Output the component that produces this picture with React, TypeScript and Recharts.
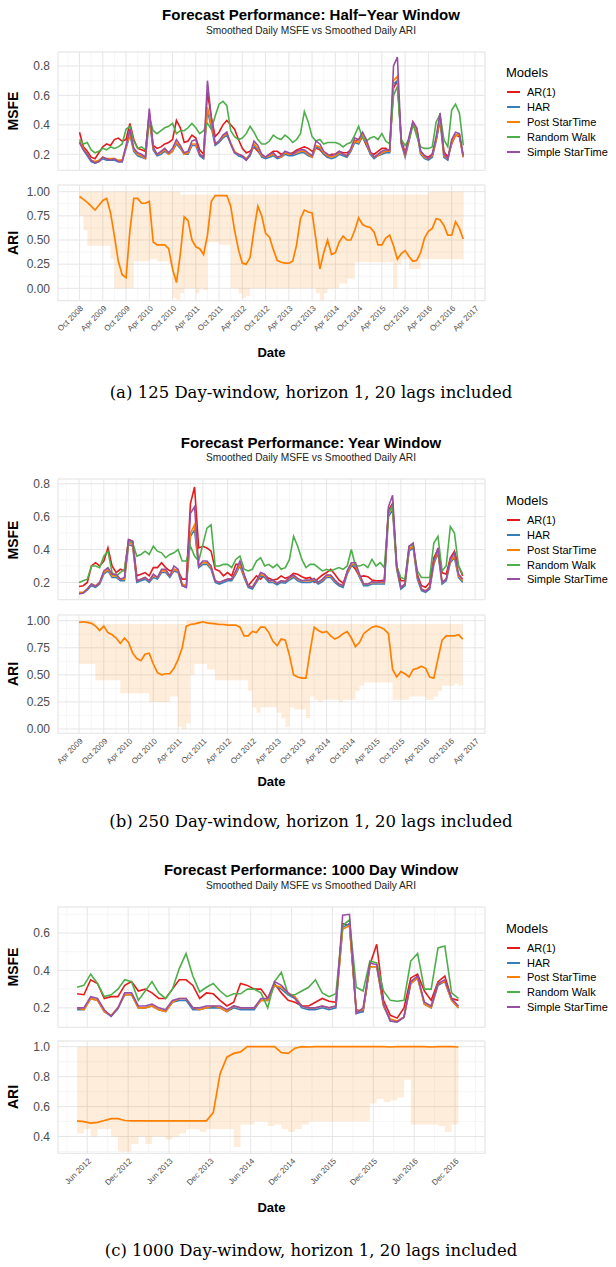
import React from "react";
import { LineChart, ComposedChart, Line, Area, XAxis, YAxis, CartesianGrid } from "recharts";

const FONT = "'Liberation Sans', Arial, Helvetica, sans-serif";
const MONTHS = ["Jan", "Feb", "Mar", "Apr", "May", "Jun", "Jul", "Aug", "Sep", "Oct", "Nov", "Dec"];

const MODELS = [
  { key: "ar", name: "AR(1)", color: "#E41A1C" },
  { key: "har", name: "HAR", color: "#377EB8" },
  { key: "post", name: "Post StarTime", color: "#FF7F00" },
  { key: "rw", name: "Random Walk", color: "#4DAF4A" },
  { key: "simple", name: "Simple StarTime", color: "#984EA3" },
];

// x values are months since Jan 2008 (9 = Oct 2008)

// ---- (a) 125 day window, first month Oct 2008 ----
const halfStart = 9;
const halfAR = [
  0.35, 0.25, 0.22, 0.18, 0.17, 0.21, 0.25, 0.27, 0.26, 0.30,
  0.31, 0.29, 0.30, 0.41, 0.30, 0.24, 0.23, 0.22, 0.48, 0.26,
  0.24, 0.25, 0.27, 0.28, 0.30, 0.43, 0.38, 0.28, 0.29, 0.33,
  0.31, 0.23, 0.20, 0.62, 0.45, 0.32, 0.35, 0.40, 0.43, 0.40,
  0.37, 0.30, 0.24, 0.21, 0.22, 0.25, 0.22, 0.19, 0.18, 0.20,
  0.22, 0.22, 0.20, 0.21, 0.20, 0.21, 0.23, 0.24, 0.25, 0.24,
  0.22, 0.24, 0.23, 0.20, 0.18, 0.20, 0.20, 0.22, 0.21, 0.21,
  0.23, 0.29, 0.30, 0.32, 0.26, 0.21, 0.20, 0.22, 0.24, 0.24,
  0.22, 0.65, 0.70, 0.30, 0.21, 0.30, 0.42, 0.37, 0.22, 0.19,
  0.18, 0.20, 0.30, 0.44, 0.22, 0.18, 0.27, 0.33, 0.32, 0.18,
];
const halfHAR = [
  0.28, 0.23, 0.19, 0.15, 0.14, 0.15, 0.17, 0.16, 0.16, 0.16,
  0.15, 0.15, 0.24, 0.33, 0.22, 0.19, 0.18, 0.17, 0.44, 0.23,
  0.19, 0.20, 0.22, 0.20, 0.22, 0.27, 0.24, 0.20, 0.20, 0.26,
  0.26, 0.19, 0.17, 0.50, 0.38, 0.26, 0.28, 0.31, 0.33, 0.27,
  0.21, 0.19, 0.18, 0.16, 0.19, 0.26, 0.23, 0.18, 0.17, 0.18,
  0.19, 0.17, 0.18, 0.20, 0.19, 0.19, 0.20, 0.21, 0.21, 0.19,
  0.18, 0.25, 0.24, 0.20, 0.18, 0.17, 0.18, 0.20, 0.19, 0.18,
  0.22, 0.28, 0.27, 0.32, 0.27, 0.20, 0.17, 0.19, 0.20, 0.21,
  0.21, 0.68, 0.70, 0.27, 0.18, 0.29, 0.40, 0.35, 0.20, 0.17,
  0.16, 0.18, 0.29, 0.43, 0.18, 0.16, 0.28, 0.33, 0.33, 0.18,
];
const halfPost = [
  0.29, 0.24, 0.20, 0.16, 0.15, 0.16, 0.18, 0.17, 0.17, 0.17,
  0.16, 0.16, 0.25, 0.34, 0.23, 0.20, 0.19, 0.17, 0.46, 0.24,
  0.20, 0.21, 0.23, 0.20, 0.22, 0.28, 0.25, 0.20, 0.21, 0.27,
  0.27, 0.20, 0.18, 0.52, 0.40, 0.27, 0.29, 0.32, 0.34, 0.28,
  0.22, 0.20, 0.19, 0.17, 0.20, 0.27, 0.24, 0.19, 0.18, 0.19,
  0.20, 0.18, 0.18, 0.21, 0.20, 0.20, 0.21, 0.22, 0.22, 0.20,
  0.18, 0.26, 0.25, 0.21, 0.19, 0.18, 0.19, 0.21, 0.20, 0.19,
  0.23, 0.29, 0.28, 0.33, 0.28, 0.21, 0.18, 0.19, 0.21, 0.22,
  0.22, 0.70, 0.73, 0.28, 0.19, 0.30, 0.41, 0.36, 0.21, 0.18,
  0.17, 0.19, 0.30, 0.45, 0.19, 0.17, 0.28, 0.33, 0.33, 0.18,
];
const halfRW = [
  0.30, 0.27, 0.28, 0.23, 0.21, 0.22, 0.24, 0.23, 0.25, 0.24,
  0.25, 0.27, 0.37, 0.39, 0.29, 0.24, 0.25, 0.23, 0.45, 0.36,
  0.34, 0.36, 0.38, 0.39, 0.41, 0.34, 0.36, 0.36, 0.38, 0.41,
  0.38, 0.34, 0.36, 0.41, 0.37, 0.46, 0.54, 0.56, 0.53, 0.36,
  0.32, 0.30, 0.31, 0.34, 0.39, 0.35, 0.30, 0.27, 0.27, 0.29,
  0.33, 0.31, 0.30, 0.33, 0.31, 0.28, 0.30, 0.34, 0.49, 0.42,
  0.32, 0.29, 0.30, 0.27, 0.28, 0.28, 0.28, 0.27, 0.25, 0.27,
  0.28, 0.33, 0.39, 0.31, 0.29, 0.31, 0.32, 0.30, 0.34, 0.29,
  0.27, 0.60, 0.66, 0.30, 0.26, 0.30, 0.41, 0.32, 0.25, 0.24,
  0.24, 0.25, 0.42, 0.47, 0.30, 0.25, 0.50, 0.54, 0.48, 0.26,
];
const halfSimple = [
  0.28, 0.23, 0.20, 0.16, 0.14, 0.15, 0.18, 0.17, 0.16, 0.17,
  0.15, 0.15, 0.26, 0.37, 0.24, 0.21, 0.20, 0.18, 0.51, 0.25,
  0.20, 0.22, 0.24, 0.21, 0.24, 0.30, 0.26, 0.21, 0.22, 0.29,
  0.30, 0.20, 0.18, 0.70, 0.45, 0.27, 0.29, 0.33, 0.35, 0.27,
  0.21, 0.20, 0.19, 0.16, 0.20, 0.29, 0.26, 0.20, 0.18, 0.20,
  0.21, 0.18, 0.19, 0.22, 0.21, 0.20, 0.22, 0.23, 0.23, 0.21,
  0.19, 0.29, 0.27, 0.22, 0.20, 0.19, 0.20, 0.22, 0.20, 0.19,
  0.24, 0.31, 0.30, 0.35, 0.30, 0.22, 0.18, 0.20, 0.22, 0.23,
  0.23, 0.80, 0.86, 0.28, 0.20, 0.32, 0.42, 0.38, 0.22, 0.19,
  0.17, 0.20, 0.32, 0.48, 0.20, 0.17, 0.30, 0.35, 0.34, 0.19,
];
const halfARI = [
  0.95, 0.92, 0.89, 0.85, 0.81, 0.86, 0.91, 0.93, 0.78, 0.54,
  0.28, 0.14, 0.11, 0.60, 0.93, 0.93, 0.88, 0.88, 0.90, 0.48,
  0.45, 0.45, 0.45, 0.41, 0.20, 0.06, 0.35, 0.74, 0.70, 0.50,
  0.43, 0.41, 0.35, 0.55, 0.90, 0.96, 0.96, 0.96, 0.96, 0.85,
  0.60, 0.40, 0.26, 0.25, 0.32, 0.60, 0.85, 0.75, 0.57, 0.53,
  0.40, 0.29, 0.27, 0.26, 0.26, 0.28, 0.45, 0.72, 0.81, 0.79,
  0.78, 0.50, 0.20, 0.37, 0.50, 0.35, 0.37, 0.48, 0.54, 0.50,
  0.50, 0.60, 0.73, 0.66, 0.64, 0.63, 0.58, 0.45, 0.45, 0.52,
  0.55, 0.44, 0.30, 0.36, 0.39, 0.33, 0.28, 0.29, 0.37, 0.52,
  0.59, 0.62, 0.72, 0.71, 0.65, 0.55, 0.55, 0.69, 0.62, 0.51,
];
const halfLow = [
  0.75, 0.60, 0.44, 0.44, 0.44, 0.44, 0.44, 0.44, 0.30, 0.00,
  0.00, 0.00, 0.00, 0.00, 0.28, 0.28, 0.28, 0.28, 0.30, 0.30,
  0.28, 0.28, 0.28, 0.25, -0.10, -0.12, -0.05, 0.00, 0.00, 0.00,
  -0.05, 0.00, -0.02, 0.48, 0.48, 0.48, 0.45, 0.45, 0.45, 0.00,
  0.00, -0.05, -0.10, -0.08, 0.00, 0.00, 0.00, 0.00, 0.00, 0.00,
  0.00, 0.00, 0.00, 0.00, 0.00, 0.00, 0.00, 0.00, 0.00, 0.00,
  0.00, -0.05, -0.12, -0.05, 0.00, 0.00, 0.00, 0.05, 0.05, 0.10,
  0.10, 0.27, 0.27, 0.27, 0.27, 0.27, 0.27, 0.27, 0.27, 0.27,
  0.27, 0.00, 0.25, 0.30, 0.30, 0.20, 0.20, 0.20, 0.30, 0.30,
  0.30, 0.30, 0.30, 0.30, 0.30, 0.30, 0.30, 0.30, 0.30, 0.00,
];
const halfHigh = [
  1.00, 1.00, 1.00, 1.00, 1.00, 1.00, 1.00, 1.00, 1.00, 1.00,
  1.00, 1.00, 1.00, 1.00, 1.00, 1.00, 1.00, 1.00, 1.00, 1.00,
  1.00, 1.00, 1.00, 1.00, 1.00, 1.00, 0.97, 0.97, 0.97, 0.97,
  0.97, 0.97, 0.97, 0.97, 0.97, 0.97, 0.97, 0.97, 0.97, 0.97,
  0.97, 0.97, 0.97, 0.97, 0.97, 0.97, 0.97, 0.97, 0.97, 0.97,
  0.97, 0.97, 0.97, 0.97, 0.97, 0.97, 0.97, 0.97, 0.97, 0.97,
  0.97, 0.97, 0.97, 0.97, 0.97, 0.97, 0.97, 0.97, 0.97, 0.97,
  0.97, 0.97, 0.97, 0.97, 0.97, 0.97, 0.97, 0.97, 0.97, 0.97,
  0.97, 0.97, 0.97, 0.97, 0.97, 0.97, 0.97, 0.97, 0.97, 0.97,
  1.00, 1.00, 1.00, 1.00, 1.00, 1.00, 1.00, 1.00, 1.00, 1.00,
];
const halfTicks = [9, 15, 21, 27, 33, 39, 45, 51, 57, 63, 69, 75, 81, 87, 93, 99, 105, 111];

// ---- (b) 250 day window, first month Apr 2009 ----
const yearStart = 15;
const yearAR = [
  0.175, 0.18, 0.20, 0.30, 0.32, 0.30, 0.33, 0.41, 0.30, 0.26,
  0.28, 0.27, 0.46, 0.45, 0.24, 0.25, 0.26, 0.24, 0.29, 0.29,
  0.32, 0.29, 0.27, 0.28, 0.27, 0.22, 0.22, 0.68, 0.78, 0.41,
  0.42, 0.41, 0.39, 0.28, 0.27, 0.24, 0.26, 0.24, 0.31, 0.31,
  0.24, 0.18, 0.21, 0.24, 0.22, 0.245, 0.225, 0.215, 0.22, 0.24,
  0.225, 0.235, 0.255, 0.25, 0.235, 0.225, 0.23, 0.20, 0.225, 0.245,
  0.26, 0.28, 0.25, 0.215, 0.195, 0.26, 0.31, 0.28, 0.235, 0.24,
  0.235, 0.215, 0.21, 0.21, 0.215, 0.64, 0.68, 0.30, 0.21, 0.21,
  0.40, 0.42, 0.25, 0.18, 0.17, 0.20, 0.35, 0.40, 0.26, 0.25,
  0.35, 0.39, 0.30, 0.24,
];
const yearHAR = [
  0.135, 0.135, 0.155, 0.18, 0.17, 0.19, 0.25, 0.27, 0.23, 0.23,
  0.21, 0.21, 0.43, 0.42, 0.20, 0.21, 0.22, 0.20, 0.23, 0.22,
  0.26, 0.26, 0.23, 0.27, 0.26, 0.18, 0.17, 0.48, 0.52, 0.29,
  0.31, 0.31, 0.28, 0.20, 0.19, 0.20, 0.21, 0.21, 0.25, 0.30,
  0.23, 0.17, 0.16, 0.20, 0.24, 0.23, 0.20, 0.20, 0.185, 0.20,
  0.195, 0.215, 0.23, 0.21, 0.20, 0.20, 0.20, 0.21, 0.19, 0.205,
  0.23, 0.23, 0.20, 0.18, 0.17, 0.25, 0.30, 0.30, 0.23, 0.18,
  0.18, 0.19, 0.19, 0.19, 0.19, 0.60, 0.64, 0.28, 0.16, 0.18,
  0.39, 0.41, 0.22, 0.15, 0.14, 0.16, 0.31, 0.38, 0.19, 0.21,
  0.32, 0.35, 0.23, 0.20,
];
const yearPost = [
  0.14, 0.14, 0.16, 0.19, 0.18, 0.20, 0.26, 0.28, 0.24, 0.24,
  0.22, 0.22, 0.44, 0.43, 0.21, 0.22, 0.23, 0.21, 0.24, 0.23,
  0.27, 0.27, 0.24, 0.28, 0.27, 0.19, 0.18, 0.50, 0.55, 0.30,
  0.32, 0.32, 0.29, 0.21, 0.20, 0.21, 0.22, 0.22, 0.26, 0.31,
  0.24, 0.18, 0.17, 0.21, 0.25, 0.24, 0.21, 0.21, 0.195, 0.21,
  0.205, 0.225, 0.24, 0.22, 0.21, 0.21, 0.21, 0.22, 0.20, 0.215,
  0.24, 0.24, 0.21, 0.19, 0.18, 0.26, 0.31, 0.31, 0.24, 0.19,
  0.19, 0.20, 0.20, 0.20, 0.20, 0.62, 0.66, 0.29, 0.17, 0.19,
  0.40, 0.42, 0.23, 0.16, 0.15, 0.17, 0.32, 0.39, 0.20, 0.22,
  0.33, 0.36, 0.24, 0.21,
];
const yearRW = [
  0.20, 0.21, 0.22, 0.30, 0.30, 0.29, 0.36, 0.39, 0.26, 0.24,
  0.26, 0.28, 0.45, 0.44, 0.36, 0.37, 0.39, 0.37, 0.42, 0.39,
  0.38, 0.35, 0.37, 0.38, 0.40, 0.33, 0.33, 0.42, 0.36, 0.33,
  0.43, 0.53, 0.55, 0.30, 0.30, 0.31, 0.31, 0.29, 0.34, 0.36,
  0.28, 0.27, 0.28, 0.33, 0.35, 0.30, 0.31, 0.29, 0.31, 0.28,
  0.29, 0.34, 0.48, 0.42, 0.34, 0.29, 0.31, 0.31, 0.29, 0.27,
  0.28, 0.27, 0.28, 0.29, 0.28, 0.30, 0.40, 0.30, 0.30, 0.31,
  0.29, 0.34, 0.30, 0.32, 0.29, 0.62, 0.67, 0.30, 0.23, 0.22,
  0.42, 0.43, 0.27, 0.23, 0.23, 0.23, 0.44, 0.48, 0.27, 0.30,
  0.54, 0.50, 0.30, 0.25,
];
const yearSimple = [
  0.13, 0.135, 0.16, 0.19, 0.175, 0.20, 0.27, 0.29, 0.25, 0.25,
  0.22, 0.23, 0.46, 0.45, 0.21, 0.22, 0.23, 0.21, 0.25, 0.23,
  0.28, 0.28, 0.24, 0.30, 0.28, 0.18, 0.17, 0.62, 0.66, 0.30,
  0.33, 0.33, 0.30, 0.21, 0.20, 0.21, 0.22, 0.22, 0.27, 0.33,
  0.25, 0.18, 0.17, 0.21, 0.26, 0.25, 0.21, 0.215, 0.195, 0.21,
  0.205, 0.23, 0.245, 0.225, 0.21, 0.215, 0.215, 0.225, 0.20, 0.22,
  0.245, 0.245, 0.215, 0.19, 0.18, 0.27, 0.32, 0.32, 0.25, 0.19,
  0.19, 0.205, 0.20, 0.205, 0.205, 0.66, 0.73, 0.30, 0.17, 0.19,
  0.42, 0.44, 0.24, 0.16, 0.145, 0.17, 0.33, 0.41, 0.20, 0.22,
  0.34, 0.38, 0.25, 0.22,
];
const yearARI = [
  0.985, 0.99, 0.985, 0.975, 0.95, 0.91, 0.95, 0.89, 0.87, 0.84,
  0.79, 0.84, 0.80, 0.70, 0.65, 0.63, 0.69, 0.70, 0.60, 0.52,
  0.50, 0.51, 0.51, 0.56, 0.64, 0.75, 0.95, 0.965, 0.97, 0.98,
  0.99, 0.98, 0.975, 0.97, 0.965, 0.965, 0.96, 0.96, 0.96, 0.94,
  0.86, 0.86, 0.90, 0.89, 0.94, 0.94, 0.89, 0.81, 0.77, 0.83,
  0.82, 0.68, 0.50, 0.48, 0.47, 0.47, 0.72, 0.94, 0.91, 0.89,
  0.90, 0.86, 0.83, 0.85, 0.88, 0.90, 0.84, 0.76, 0.80, 0.88,
  0.91, 0.94, 0.95, 0.94, 0.92, 0.88, 0.55, 0.48, 0.53, 0.51,
  0.48, 0.55, 0.56, 0.58, 0.56, 0.48, 0.47, 0.65, 0.82, 0.86,
  0.86, 0.86, 0.87, 0.83,
];
const yearLow = [
  0.60, 0.60, 0.60, 0.60, 0.45, 0.45, 0.45, 0.45, 0.45, 0.45,
  0.33, 0.33, 0.33, 0.33, 0.33, 0.33, 0.33, 0.25, 0.25, 0.25,
  0.25, 0.25, 0.30, 0.30, 0.02, 0.00, 0.05, 0.50, 0.60, 0.60,
  0.60, 0.55, 0.55, 0.45, 0.45, 0.45, 0.45, 0.45, 0.45, 0.45,
  0.45, 0.35, 0.20, 0.15, 0.20, 0.20, 0.20, 0.20, 0.15, 0.10,
  0.02, 0.20, 0.18, 0.18, 0.18, 0.10, 0.30, 0.27, 0.25, 0.27,
  0.27, 0.27, 0.27, 0.25, 0.27, 0.27, 0.27, 0.35, 0.40, 0.43,
  0.43, 0.43, 0.43, 0.43, 0.43, 0.43, 0.27, 0.27, 0.27, 0.27,
  0.30, 0.30, 0.30, 0.30, 0.27, 0.27, 0.30, 0.35, 0.40, 0.40,
  0.40, 0.42, 0.40, 0.25,
];
const yearHigh = [
  1.00, 1.00, 1.00, 1.00, 0.97, 0.97, 0.97, 0.97, 0.97, 0.97,
  0.97, 0.97, 0.97, 0.97, 0.97, 0.97, 0.97, 0.97, 0.97, 0.97,
  0.97, 0.97, 0.97, 0.97, 0.97, 0.97, 1.00, 1.00, 1.00, 1.00,
  1.00, 1.00, 1.00, 1.00, 1.00, 1.00, 0.97, 0.97, 0.97, 0.97,
  0.97, 0.97, 0.97, 0.97, 0.97, 0.97, 0.97, 0.97, 0.97, 0.97,
  0.97, 0.97, 0.97, 0.97, 0.97, 0.97, 0.97, 0.97, 0.97, 0.97,
  0.97, 0.97, 0.97, 0.97, 0.97, 0.97, 0.97, 0.97, 0.97, 0.97,
  0.97, 0.97, 0.97, 0.97, 0.97, 0.97, 0.97, 0.97, 0.97, 0.97,
  0.97, 0.97, 0.97, 0.97, 0.97, 0.97, 0.97, 0.97, 0.97, 0.97,
  0.97, 0.97, 0.97, 0.97,
];
const yearTicks = [15, 21, 27, 33, 39, 45, 51, 57, 63, 69, 75, 81, 87, 93, 99, 105, 111];

// ---- (c) 1000 day window, first point mid Apr 2012 ----
const kStart = 51.5;
const kAR = [
  0.275, 0.27, 0.35, 0.33, 0.25, 0.26, 0.26, 0.32, 0.34, 0.29,
  0.30, 0.28, 0.25, 0.25, 0.30, 0.35, 0.35, 0.32, 0.25, 0.28,
  0.275, 0.24, 0.21, 0.23, 0.33, 0.32, 0.30, 0.30, 0.25, 0.33,
  0.28, 0.24, 0.23, 0.21, 0.21, 0.23, 0.25, 0.235, 0.23, 0.65,
  0.64, 0.19, 0.18, 0.43, 0.54, 0.24, 0.16, 0.145, 0.20, 0.36,
  0.38, 0.29, 0.24, 0.34, 0.37, 0.25, 0.24,
];
const kHAR = [
  0.19, 0.19, 0.25, 0.24, 0.18, 0.155, 0.195, 0.27, 0.27, 0.20,
  0.20, 0.21, 0.19, 0.18, 0.23, 0.24, 0.24, 0.19, 0.19, 0.20,
  0.20, 0.20, 0.18, 0.20, 0.19, 0.19, 0.19, 0.24, 0.24, 0.32,
  0.30, 0.27, 0.25, 0.20, 0.19, 0.19, 0.20, 0.19, 0.20, 0.63,
  0.65, 0.17, 0.18, 0.42, 0.42, 0.21, 0.13, 0.125, 0.15, 0.33,
  0.36, 0.22, 0.20, 0.32, 0.34, 0.24, 0.20,
];
const kPost = [
  0.20, 0.19, 0.25, 0.24, 0.18, 0.16, 0.20, 0.27, 0.27, 0.20,
  0.20, 0.21, 0.19, 0.18, 0.23, 0.25, 0.25, 0.20, 0.19, 0.20,
  0.21, 0.20, 0.18, 0.21, 0.20, 0.20, 0.20, 0.24, 0.24, 0.32,
  0.31, 0.28, 0.26, 0.21, 0.20, 0.20, 0.21, 0.20, 0.21, 0.62,
  0.64, 0.18, 0.19, 0.42, 0.42, 0.21, 0.14, 0.13, 0.15, 0.33,
  0.36, 0.22, 0.20, 0.33, 0.34, 0.24, 0.20,
];
const kRW = [
  0.31, 0.32, 0.38, 0.33, 0.26, 0.27, 0.30, 0.35, 0.34, 0.24,
  0.29, 0.34, 0.28, 0.25, 0.30, 0.41, 0.49, 0.37, 0.285, 0.31,
  0.33, 0.29, 0.26, 0.275, 0.275, 0.30, 0.30, 0.28, 0.20, 0.34,
  0.39, 0.27, 0.27, 0.29, 0.31, 0.35, 0.28, 0.26, 0.275, 0.64,
  0.67, 0.31, 0.29, 0.45, 0.44, 0.29, 0.24, 0.235, 0.24, 0.45,
  0.49, 0.30, 0.30, 0.52, 0.53, 0.28, 0.25,
];
const kSimple = [
  0.20, 0.20, 0.26, 0.25, 0.19, 0.155, 0.20, 0.28, 0.28, 0.21,
  0.21, 0.22, 0.20, 0.19, 0.24, 0.25, 0.25, 0.20, 0.20, 0.21,
  0.21, 0.21, 0.19, 0.21, 0.20, 0.20, 0.20, 0.25, 0.25, 0.34,
  0.32, 0.28, 0.25, 0.21, 0.20, 0.20, 0.21, 0.20, 0.21, 0.695,
  0.70, 0.17, 0.20, 0.44, 0.43, 0.22, 0.13, 0.125, 0.15, 0.34,
  0.37, 0.23, 0.21, 0.33, 0.35, 0.25, 0.21,
];
const kARI = [
  0.505, 0.50, 0.49, 0.495, 0.507, 0.52, 0.52, 0.507, 0.505, 0.505,
  0.505, 0.505, 0.505, 0.505, 0.505, 0.505, 0.505, 0.505, 0.505, 0.505,
  0.56, 0.82, 0.93, 0.955, 0.965, 1.0, 1.0, 1.0, 1.0, 1.0,
  0.96, 0.955, 0.99, 1.0, 0.998, 1.0, 1.0, 1.0, 1.0, 1.0,
  1.0, 1.0, 1.0, 1.0, 1.0, 1.0, 0.998, 1.0, 1.0, 1.0,
  1.0, 1.0, 0.998, 1.0, 1.0, 1.0, 0.998,
];
const kLow = [
  0.42, 0.45, 0.40, 0.45, 0.45, 0.40, 0.30, 0.30, 0.35, 0.40,
  0.35, 0.40, 0.40, 0.38, 0.40, 0.42, 0.45, 0.45, 0.43, 0.45,
  0.45, 0.45, 0.45, 0.33, 0.48, 0.48, 0.50, 0.50, 0.47, 0.48,
  0.45, 0.43, 0.45, 0.48, 0.50, 0.50, 0.50, 0.50, 0.50, 0.50,
  0.50, 0.50, 0.50, 0.62, 0.65, 0.63, 0.64, 0.66, 0.78, 0.48,
  0.48, 0.48, 0.48, 0.47, 0.43, 0.48, 0.50,
];
const kHigh = [
  1, 1, 1, 1, 1, 1, 1, 1, 1, 1,
  1, 1, 1, 1, 1, 1, 1, 1, 1, 1,
  1, 1, 1, 1, 1, 1, 1, 1, 1, 1,
  1, 1, 1, 1, 1, 1, 1, 1, 1, 1,
  1, 1, 1, 1, 1, 1, 1, 1, 1, 1,
  1, 1, 1, 1, 1, 1, 1,
];
const kTicks = [53, 59, 65, 71, 77, 83, 89, 95, 101, 107];

type Row = {
  t: number; ar: number; har: number; post: number; rw: number; simple: number;
  ari: number; band: [number, number];
};

function buildRows(start: number, ar: number[], har: number[], post: number[], rw: number[],
  simple: number[], ari: number[], lo: number[], hi: number[]): Row[] {
  return ar.map((_, i) => ({
    t: start + i, ar: ar[i], har: har[i], post: post[i], rw: rw[i], simple: simple[i],
    ari: ari[i], band: [lo[i], hi[i]],
  }));
}

const monthLabel = (t: number) => `${MONTHS[t % 12]} ${2008 + Math.floor(t / 12)}`;

type Layout = {
  title: string; caption: string; titleY: number; subY: number;
  msfe: [number, number]; msfeDomain: [number, number]; msfeTicks: number[]; msfeMinor: number[];
  ari: [number, number]; ariDomain: [number, number]; ariTicks: number[]; ariMinor: number[]; ariDigits: number;
  xDomain: [number, number]; xTicks: number[];
  dateY: number; captionY: number; legendY: number[];
};

const LEFT = 58;
const RIGHT = 485;
const W = 616;

function Txt({ x, y, style, rotate, children }: any) {
  return (
    <div
      style={{
        position: "absolute", left: x, top: y, whiteSpace: "nowrap", lineHeight: 1,
        transform: `translate(-50%, -50%)${rotate ? " rotate(-90deg)" : ""}`, ...style,
      }}
    >
      {children}
    </div>
  );
}

function DateTick(props: any) {
  const { x, y, payload } = props;
  return (
    <text x={x} y={y} dy={6} textAnchor="end" fontSize={8} fill="#4d4d4d" transform={`rotate(-45 ${x} ${y})`}>
      {monthLabel(payload.value)}
    </text>
  );
}

function Panel({ rows, L }: { rows: Row[]; L: Layout }) {
  const msfeH = L.msfe[1] - L.msfe[0];
  const ariH = L.ari[1] - L.ari[0];
  // minor grid sits halfway between the labelled months
  const xMinor = L.xTicks.map((t) => t - 3).concat([L.xTicks[L.xTicks.length - 1] + 3])
    .filter((t) => t > L.xDomain[0] && t < L.xDomain[1]);
  const cx = (LEFT + RIGHT) / 2;
  return (
    <>
      <Txt x={311} y={L.titleY} style={{ fontSize: 15, fontWeight: "bold" }}>{L.title}</Txt>
      <Txt x={311} y={L.subY} style={{ fontSize: 10.2, color: "#222" }}>Smoothed Daily MSFE vs Smoothed Daily ARI</Txt>

      <div style={{ position: "absolute", left: 0, top: L.msfe[0] - 5 }}>
        <LineChart width={W} height={msfeH + 10} data={rows} margin={{ top: 5, right: W - RIGHT, bottom: 5, left: 0 }}>
          <XAxis xAxisId="minor" type="number" dataKey="t" domain={L.xDomain} ticks={xMinor} allowDataOverflow hide />
          <YAxis yAxisId="minor" type="number" domain={L.msfeDomain} ticks={L.msfeMinor} allowDataOverflow hide />
          <CartesianGrid xAxisId="minor" yAxisId="minor" stroke="#f0f0f0" strokeWidth={0.6} />
          <XAxis type="number" dataKey="t" domain={L.xDomain} ticks={L.xTicks} allowDataOverflow hide />
          <YAxis
            type="number" domain={L.msfeDomain} ticks={L.msfeTicks} allowDataOverflow width={LEFT}
            axisLine={false} tickLine={false} tickSize={0} tickMargin={8}
            tick={{ fill: "#4d4d4d", fontSize: 12 }} tickFormatter={(v: number) => v.toFixed(1)}
          />
          <CartesianGrid stroke="#e3e3e3" strokeWidth={0.9} />
          {MODELS.map((m) => (
            <Line key={m.key} type="linear" dataKey={m.key} stroke={m.color} strokeWidth={1.6} dot={false} isAnimationActive={false} />
          ))}
        </LineChart>
      </div>

      <div style={{ position: "absolute", left: 0, top: L.ari[0] - 5 }}>
        <ComposedChart width={W} height={ariH + 5 + 45} data={rows} margin={{ top: 5, right: W - RIGHT, bottom: 0, left: 0 }}>
          <XAxis xAxisId="minor" type="number" dataKey="t" domain={L.xDomain} ticks={xMinor} allowDataOverflow hide />
          <YAxis yAxisId="minor" type="number" domain={L.ariDomain} ticks={L.ariMinor} allowDataOverflow hide />
          <CartesianGrid xAxisId="minor" yAxisId="minor" stroke="#f0f0f0" strokeWidth={0.6} />
          <XAxis
            type="number" dataKey="t" domain={L.xDomain} ticks={L.xTicks} allowDataOverflow interval={0}
            height={45} axisLine={false} tickLine={false} tickSize={0} tickMargin={4} tick={<DateTick />}
          />
          <YAxis
            type="number" domain={L.ariDomain} ticks={L.ariTicks} allowDataOverflow width={LEFT}
            axisLine={false} tickLine={false} tickSize={0} tickMargin={8}
            tick={{ fill: "#4d4d4d", fontSize: 12 }} tickFormatter={(v: number) => v.toFixed(L.ariDigits)}
          />
          <CartesianGrid stroke="#e3e3e3" strokeWidth={0.9} />
          <Area type="stepAfter" dataKey="band" stroke="none" fill="#FF7F00" fillOpacity={0.14} isAnimationActive={false} />
          <Line type="linear" dataKey="ari" stroke="#FF7F00" strokeWidth={1.7} dot={false} isAnimationActive={false} />
        </ComposedChart>
      </div>

      <Txt x={13} y={(L.msfe[0] + L.msfe[1]) / 2} rotate style={{ fontSize: 14, fontWeight: "bold" }}>MSFE</Txt>
      <Txt x={13} y={(L.ari[0] + L.ari[1]) / 2} rotate style={{ fontSize: 14, fontWeight: "bold" }}>ARI</Txt>
      <Txt x={cx} y={L.dateY} style={{ fontSize: 13, fontWeight: "bold" }}>Date</Txt>

      <div style={{ position: "absolute", left: 506, top: L.legendY[0], transform: "translateY(-50%)", fontSize: 13, lineHeight: 1 }}>
        Models
      </div>
      {MODELS.map((m, i) => (
        <React.Fragment key={m.key}>
          <div style={{ position: "absolute", left: 507, top: L.legendY[i + 1] - 1, width: 13, height: 2, background: m.color }} />
          <div style={{ position: "absolute", left: 527, top: L.legendY[i + 1], transform: "translateY(-50%)", fontSize: 11, lineHeight: 1 }}>
            {m.name}
          </div>
        </React.Fragment>
      ))}

      <Txt x={311} y={L.captionY} style={{ fontSize: 16.5, fontFamily: "'DejaVu Serif', serif" }}>{L.caption}</Txt>
    </>
  );
}

const halfRows = buildRows(halfStart, halfAR, halfHAR, halfPost, halfRW, halfSimple, halfARI, halfLow, halfHigh);
const yearRows = buildRows(yearStart, yearAR, yearHAR, yearPost, yearRW, yearSimple, yearARI, yearLow, yearHigh);
const kRows = buildRows(kStart, kAR, kHAR, kPost, kRW, kSimple, kARI, kLow, kHigh);

const L1: Layout = {
  title: "Forecast Performance: Half\u2212Year Window",
  caption: "(a) 125 Day-window, horizon 1, 20 lags included",
  titleY: 13.5, subY: 31,
  msfe: [51.7, 170], msfeDomain: [0.091, 0.895], msfeTicks: [0.2, 0.4, 0.6, 0.8], msfeMinor: [0.1, 0.3, 0.5, 0.7],
  ari: [185, 300.7], ariDomain: [-0.128, 1.069], ariTicks: [0, 0.25, 0.5, 0.75, 1], ariMinor: [-0.125, 0.125, 0.375, 0.625, 0.875], ariDigits: 2,
  xDomain: [3.45, 113.6], xTicks: halfTicks,
  dateY: 352, captionY: 393, legendY: [71.7, 92.3, 107.3, 122.3, 137, 151.7],
};
const L2: Layout = {
  title: "Forecast Performance: Year Window",
  caption: "(b) 250 Day-window, horizon 1, 20 lags included",
  titleY: 441.7, subY: 458.3,
  msfe: [479.3, 600], msfeDomain: [0.095, 0.829], msfeTicks: [0.2, 0.4, 0.6, 0.8], msfeMinor: [0.1, 0.3, 0.5, 0.7],
  ari: [615, 733.3], ariDomain: [-0.04, 1.0526], ariTicks: [0, 0.25, 0.5, 0.75, 1], ariMinor: [0.125, 0.375, 0.625, 0.875], ariDigits: 2,
  xDomain: [9.9, 113.4], xTicks: yearTicks,
  dateY: 781, captionY: 822, legendY: [500, 520, 535, 550, 565, 579.3],
};
const L3: Layout = {
  title: "Forecast Performance: 1000 Day Window",
  caption: "(c) 1000 Day-window, horizon 1, 20 lags included",
  titleY: 869, subY: 886,
  msfe: [906.7, 1027], msfeDomain: [0.096, 0.739], msfeTicks: [0.2, 0.4, 0.6], msfeMinor: [0.1, 0.3, 0.5, 0.7],
  ari: [1041, 1153.3], ariDomain: [0.288, 1.038], ariTicks: [0.4, 0.6, 0.8, 1.0], ariMinor: [0.3, 0.5, 0.7, 0.9], ariDigits: 1,
  xDomain: [48.7, 111.4], xTicks: kTicks,
  dateY: 1206.7, captionY: 1250.7, legendY: [927.7, 948.3, 962.7, 977.3, 992.3, 1006.7],
};

export default function App() {
  return (
    <div style={{ position: "absolute", left: 0, top: 0, width: W, height: 1267, background: "#fff", fontFamily: FONT, color: "#000", overflow: "hidden" }}>
      <Panel rows={halfRows} L={L1} />
      <Panel rows={yearRows} L={L2} />
      <Panel rows={kRows} L={L3} />
    </div>
  );
}
